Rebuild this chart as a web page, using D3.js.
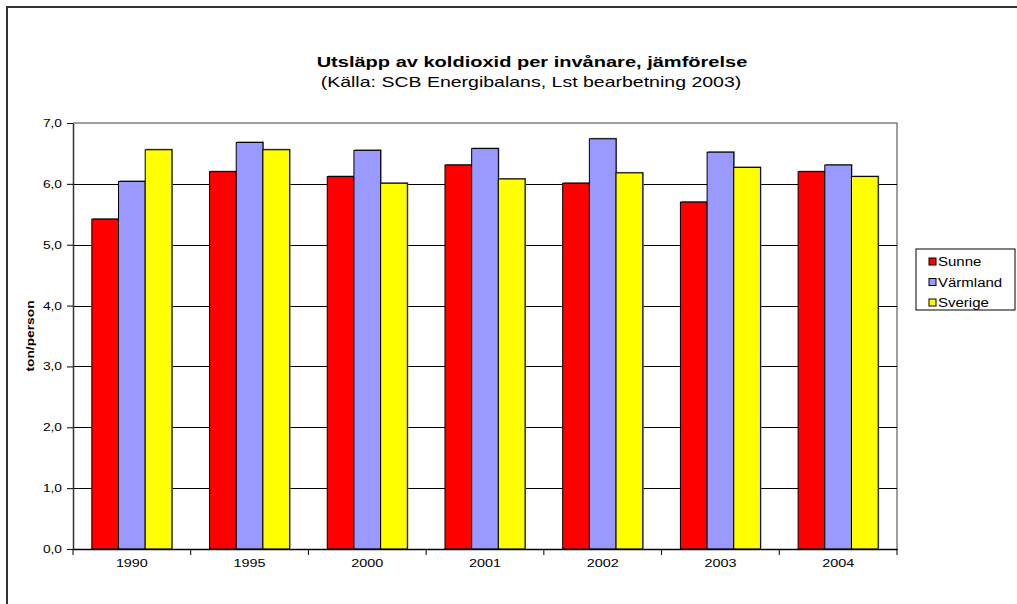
<!DOCTYPE html>
<html>
<head>
<meta charset="utf-8">
<script src="https://cdn.jsdelivr.net/npm/d3@7"></script>
<style>
  html, body { margin: 0; padding: 0; background: #fff; }
  svg { display: block; font-family: Arial, "Liberation Sans", sans-serif; }
</style>
</head>
<body>
<div id="chart"></div>
<script>
// Utsläpp av koldioxid per invånare
const years = ["1990", "1995", "2000", "2001", "2002", "2003", "2004"];
const seriesNames = ["Sunne", "Värmland", "Sverige"];
const sunne    = [5.42, 6.20, 6.12, 6.31, 6.01, 5.70, 6.20];
const varmland = [6.04, 6.68, 6.55, 6.58, 6.74, 6.52, 6.31];
const sverige  = [6.56, 6.56, 6.01, 6.08, 6.18, 6.27, 6.12];
const yTicks = [0, 1, 2, 3, 4, 5, 6, 7];
const seriesColors = ["#ff0000", "#9999ff", "#ffff00"];

const W = 1017, H = 604;
const plot = { left: 73, right: 897, top: 123, bottom: 549 };
const SX = 1.25; // the picture is stretched sideways

const svg = d3.select("#chart").append("svg")
  .attr("width", W)
  .attr("height", H);

function stretch(sel, k) {
  k = k || SX;
  sel.each(function () {
    const w = this.getComputedTextLength();
    d3.select(this).attr("textLength", w * k).attr("lengthAdjust", "spacingAndGlyphs");
  });
}

// outer frame (runs off the right and bottom edge)
svg.append("rect")
  .attr("x", 7).attr("y", 7)
  .attr("width", W + 20).attr("height", H + 20)
  .attr("fill", "none")
  .attr("stroke", "#333")
  .attr("stroke-width", 2);

const x = d3.scaleBand()
  .domain(years)
  .range([plot.left, plot.right])
  .paddingInner(0.32)
  .paddingOuter(0.16);

const xs = d3.scaleBand()
  .domain(seriesNames)
  .range([0, x.bandwidth()]);

const y = d3.scaleLinear()
  .domain([0, 7])
  .range([plot.bottom, plot.top]);

const color = d3.scaleOrdinal(seriesNames, seriesColors);

// plot frame (gray top + right)
svg.append("path")
  .attr("d", `M${plot.left},${plot.top}H${plot.right}V${plot.bottom}`)
  .attr("fill", "none")
  .attr("stroke", "#808080")
  .attr("stroke-width", 1.5);

// gridlines
svg.append("g")
  .selectAll("line")
  .data(yTicks.filter(d => d > 0 && d < 7))
  .enter().append("line")
  .attr("x1", plot.left).attr("x2", plot.right)
  .attr("y1", d => Math.round(y(d)) + 0.5)
  .attr("y2", d => Math.round(y(d)) + 0.5)
  .attr("stroke", "#000");

// bars
const rows = years.map((yr, i) => ({
  year: yr,
  values: [
    { key: "Sunne", value: sunne[i] },
    { key: "Värmland", value: varmland[i] },
    { key: "Sverige", value: sverige[i] }
  ]
}));

const groups = svg.append("g")
  .selectAll("g")
  .data(rows)
  .enter().append("g")
  .attr("transform", d => `translate(${x(d.year)},0)`);

// slight gray shadow like the original
groups.selectAll("rect.shadow")
  .data(d => d.values)
  .enter().append("rect")
  .attr("class", "shadow")
  .attr("x", d => xs(d.key) + 1)
  .attr("y", d => y(d.value) - 1)
  .attr("width", xs.bandwidth())
  .attr("height", d => plot.bottom - y(d.value))
  .attr("fill", "#777");

groups.selectAll("rect.bar")
  .data(d => d.values)
  .enter().append("rect")
  .attr("class", "bar")
  .attr("x", d => xs(d.key))
  .attr("y", d => y(d.value))
  .attr("width", xs.bandwidth())
  .attr("height", d => plot.bottom - y(d.value))
  .attr("fill", d => color(d.key))
  .attr("stroke", "#000")
  .attr("stroke-width", 1);

// y axis
const yAxis = svg.append("g")
  .attr("transform", `translate(${plot.left},0)`)
  .call(d3.axisLeft(y)
    .tickValues(yTicks)
    .tickFormat(d => d.toFixed(1).replace(".", ","))
    .tickSize(6)
    .tickSizeOuter(0)
    .tickPadding(5));
yAxis.select(".domain").attr("stroke", "#333").attr("stroke-width", 1.5);
yAxis.selectAll(".tick line").attr("stroke", "#000");
yAxis.selectAll("text")
  .attr("font-size", 11)
  .attr("font-family", "Arial, 'Liberation Sans', sans-serif")
  .attr("fill", "#000")
  .call(stretch);

// x axis
const xAxis = svg.append("g")
  .attr("transform", `translate(0,${plot.bottom})`)
  .call(d3.axisBottom(x).tickSize(0).tickSizeOuter(0).tickPadding(10));
xAxis.select(".domain").attr("stroke", "#000").attr("stroke-width", 1.5);
xAxis.selectAll("text")
  .attr("font-size", 11.5)
  .attr("font-family", "Arial, 'Liberation Sans', sans-serif")
  .attr("fill", "#000")
  .call(stretch);

// tick marks between categories
xAxis.selectAll("line.sep")
  .data(d3.range(years.length + 1))
  .enter().append("line")
  .attr("class", "sep")
  .attr("x1", i => x.range()[0] + i * x.step())
  .attr("x2", i => x.range()[0] + i * x.step())
  .attr("y1", 0).attr("y2", 6)
  .attr("stroke", "#000");

// axis title
svg.append("text")
  .attr("transform", `translate(34,${(plot.top + plot.bottom) / 2}) rotate(-90)`)
  .attr("text-anchor", "middle")
  .attr("font-size", 11)
  .attr("font-weight", "bold")
  .text("ton/person")
  .call(stretch);

// titles
svg.append("text")
  .attr("x", 532).attr("y", 67)
  .attr("text-anchor", "middle")
  .attr("font-size", 15)
  .attr("font-weight", "bold")
  .text("Utsläpp av koldioxid per invånare, jämförelse")
  .call(stretch, 1.335);

svg.append("text")
  .attr("x", 531).attr("y", 87)
  .attr("text-anchor", "middle")
  .attr("font-size", 15)
  .text("(Källa: SCB Energibalans, Lst bearbetning 2003)")
  .call(stretch, 1.3);

// legend
const legend = svg.append("g").attr("transform", "translate(916,249)");
legend.append("rect")
  .attr("width", 99).attr("height", 61)
  .attr("fill", "#fff")
  .attr("stroke", "#000");

const li = legend.selectAll("g.item")
  .data(seriesNames)
  .enter().append("g")
  .attr("class", "item")
  .attr("transform", (d, i) => `translate(13,${9 + i * 20.5})`);

li.append("rect")
  .attr("width", 7).attr("height", 7)
  .attr("fill", d => color(d))
  .attr("stroke", "#000");

li.append("text")
  .attr("x", 9).attr("y", 8)
  .attr("font-size", 12)
  .text(d => d)
  .call(stretch);
</script>
</body>
</html>
